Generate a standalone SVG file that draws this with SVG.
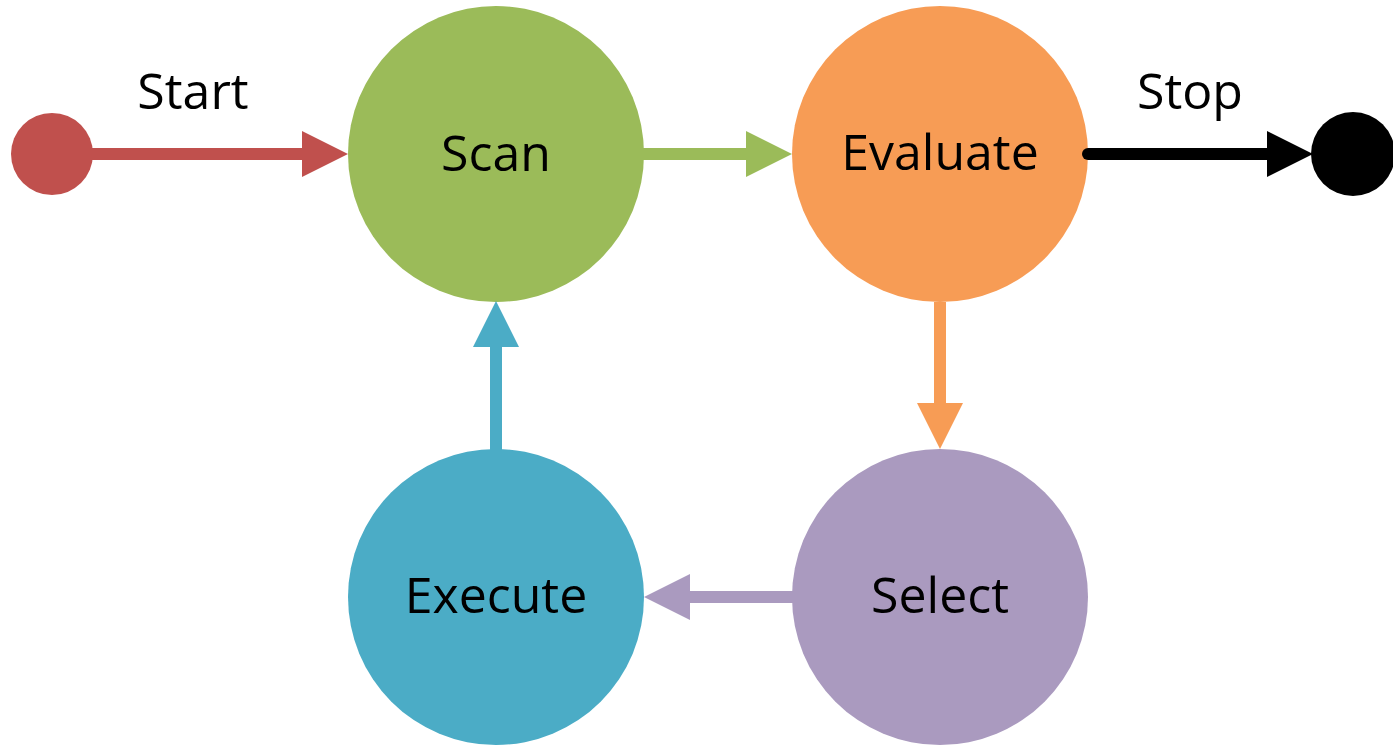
<svg xmlns="http://www.w3.org/2000/svg" width="1393" height="745" viewBox="0 0 1393 745">
  <style>
    .lbl { font-family: "Open Sans", "Noto Sans", "Liberation Sans", sans-serif; font-size: 50px; fill: #000; text-anchor: middle; }
    .conn { fill: none; stroke-width: 12; }
  </style>
  <defs>
    <marker id="mRed" markerUnits="userSpaceOnUse" markerWidth="46" markerHeight="46" refX="0" refY="23" orient="auto" overflow="visible"><path d="M0,0 L46,23 L0,46 Z" fill="#C0504D"/></marker>
    <marker id="mGreen" markerUnits="userSpaceOnUse" markerWidth="46" markerHeight="46" refX="0" refY="23" orient="auto" overflow="visible"><path d="M0,0 L46,23 L0,46 Z" fill="#9BBB59"/></marker>
    <marker id="mBlack" markerUnits="userSpaceOnUse" markerWidth="46" markerHeight="46" refX="0" refY="23" orient="auto" overflow="visible"><path d="M0,0 L46,23 L0,46 Z" fill="#000"/></marker>
    <marker id="mOrange" markerUnits="userSpaceOnUse" markerWidth="46" markerHeight="46" refX="0" refY="23" orient="auto" overflow="visible"><path d="M0,0 L46,23 L0,46 Z" fill="#F79C55"/></marker>
    <marker id="mPurple" markerUnits="userSpaceOnUse" markerWidth="46" markerHeight="46" refX="0" refY="23" orient="auto" overflow="visible"><path d="M0,0 L46,23 L0,46 Z" fill="#AA9ABF"/></marker>
    <marker id="mBlue" markerUnits="userSpaceOnUse" markerWidth="46" markerHeight="46" refX="0" refY="23" orient="auto" overflow="visible"><path d="M0,0 L46,23 L0,46 Z" fill="#4BACC6"/></marker>
  </defs>
  <rect width="1393" height="745" fill="#fff"/>

  <g id="start">
    <circle cx="52" cy="154" r="41" fill="#C0504D"/>
  </g>
  <g id="stop">
    <circle cx="1353" cy="154" r="42" fill="#000"/>
  </g>
  <g id="scan">
    <circle cx="496" cy="154" r="148" fill="#9BBB59"/>
    <text class="lbl" x="496" y="171">Scan</text>
  </g>
  <g id="evaluate">
    <circle cx="940" cy="154" r="148" fill="#F79C55"/>
    <text class="lbl" x="940" y="170">Evaluate</text>
  </g>
  <g id="select">
    <circle cx="940" cy="597" r="148" fill="#AA9ABF"/>
    <text class="lbl" x="940" y="613">Select</text>
  </g>
  <g id="execute">
    <circle cx="496" cy="597" r="148" fill="#4BACC6"/>
    <text class="lbl" x="496" y="613">Execute</text>
  </g>

  <g id="connectors">
    <path class="conn" d="M90,154 L302,154" stroke="#C0504D" marker-end="url(#mRed)"/>
    <path class="conn" d="M643,154 L746,154" stroke="#9BBB59" marker-end="url(#mGreen)"/>
    <path class="conn" d="M1088,154 L1267,154" stroke="#000" stroke-linecap="round" marker-end="url(#mBlack)"/>
    <path class="conn" d="M940,302 L940,403" stroke="#F79C55" marker-end="url(#mOrange)"/>
    <path class="conn" d="M793,597 L690,597" stroke="#AA9ABF" marker-end="url(#mPurple)"/>
    <path class="conn" d="M496,450 L496,347" stroke="#4BACC6" marker-end="url(#mBlue)"/>
    <text class="lbl" x="193" y="109">Start</text>
    <text class="lbl" x="1190" y="109">Stop</text>
  </g>
</svg>
